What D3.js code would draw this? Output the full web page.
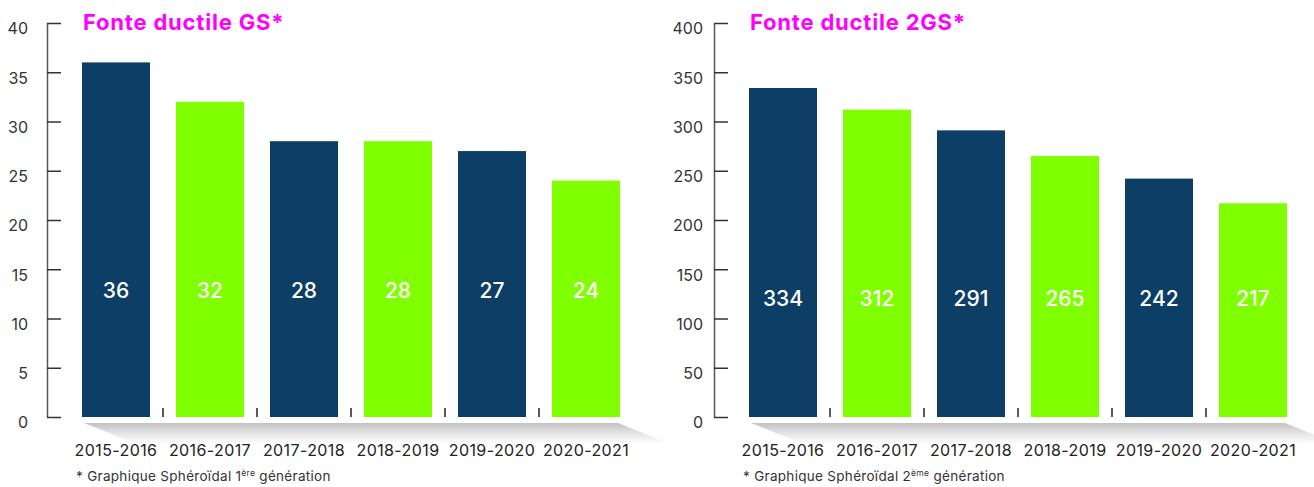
<!DOCTYPE html>
<html>
<head>
<meta charset="utf-8">
<script src="https://cdn.jsdelivr.net/npm/d3@7"></script>
<style>
  body { margin: 0; background: #fff; }
  text { font-family: Inter, "Open Sans", sans-serif; }
</style>
</head>
<body>
<div id="app"></div>
<script>
// data
let years = ["2015-2016", "2016-2017", "2017-2018", "2018-2019", "2019-2020", "2020-2021"];
let gsValues = [36, 32, 28, 28, 27, 24];
let gs2Values = [334, 312, 291, 265, 242, 217];
let gsTicks = [0, 5, 10, 15, 20, 25, 30, 35, 40];
let gs2Ticks = [0, 50, 100, 150, 200, 250, 300, 350, 400];
let barColors = ["#0d3f66", "#80ff00", "#0d3f66", "#80ff00", "#0d3f66", "#80ff00"];

let width = 1314;
let height = 487;

let svg = d3.select("#app")
  .append("svg")
    .attr("width", width)
    .attr("height", height);

// shadow gradient under the bars
let defs = svg.append("defs");
let grad = defs.append("linearGradient")
    .attr("id", "floor")
    .attr("x1", 0).attr("y1", 0)
    .attr("x2", 0).attr("y2", 1);
grad.append("stop").attr("offset", "0%").attr("stop-color", "#c2c2c2");
grad.append("stop").attr("offset", "45%").attr("stop-color", "#e2e2e2");
grad.append("stop").attr("offset", "100%").attr("stop-color", "#ffffff");

function drawChart(opts) {
  let g = svg.append("g");

  let y = d3.scaleLinear()
      .domain([0, opts.ticks[opts.ticks.length - 1]])
      .range([417, 23]);

  let x = d3.scaleBand()
      .domain(years)
      .range([opts.left + 22, opts.left + 22 + 6 * 94])
      .paddingInner(26 / 94)
      .paddingOuter(13 / 94);

  // floor shadow
  let x0 = x(years[0]) + 2;
  let x1 = x(years[years.length - 1]) + x.bandwidth() - 2;
  g.append("polygon")
      .attr("points", [[x0, 423], [x1, 423], [x1 + 52, 444], [x0 + 52, 444]].join(" "))
      .attr("fill", "url(#floor)");

  // y axis
  let axis = g.append("g")
      .attr("transform", "translate(" + opts.left + ",0)")
      .call(d3.axisLeft(y)
        .tickValues(opts.ticks)
        .tickSizeInner(-14)
        .tickSizeOuter(0)
        .tickPadding(opts.labelPad));
  axis.select(".domain").attr("stroke", "#555").attr("stroke-width", 1.5);
  axis.selectAll(".tick line").attr("stroke", "#333").attr("stroke-width", 1.5);
  axis.selectAll(".tick text")
      .attr("font-size", 16)
      .attr("fill", "#333")
      .attr("dy", "0.68em")
      .style("font-family", "Inter, sans-serif");

  // bars
  g.selectAll(".bar")
    .data(opts.values)
    .enter()
    .append("rect")
      .attr("class", "bar")
      .attr("x", (d, i) => x(years[i]))
      .attr("y", d => y(d))
      .attr("width", x.bandwidth())
      .attr("height", d => y(0) - y(d))
      .style("fill", (d, i) => barColors[i]);

  // value labels
  g.selectAll(".val")
    .data(opts.values)
    .enter()
    .append("text")
      .attr("x", (d, i) => x(years[i]) + x.bandwidth() / 2)
      .attr("y", opts.valueY)
      .attr("text-anchor", "middle")
      .attr("font-size", 21)
      .attr("font-weight", 500)
      .attr("fill", "#fff")
      .text(d => d);

  // little separators between bars
  g.selectAll(".sep")
    .data(years.slice(1))
    .enter()
    .append("line")
      .attr("x1", d => x(d) - x.step() * x.paddingInner() / 2)
      .attr("x2", d => x(d) - x.step() * x.paddingInner() / 2)
      .attr("y1", 408)
      .attr("y2", y(0))
      .attr("stroke", "#222")
      .attr("stroke-width", 1.5);

  // category labels
  g.selectAll(".cat")
    .data(years)
    .enter()
    .append("text")
      .attr("x", d => x(d) + x.bandwidth() / 2)
      .attr("y", 456)
      .attr("text-anchor", "middle")
      .attr("font-size", 16)
      .attr("letter-spacing", 0.4)
      .attr("fill", "#222")
      .text(d => d);

  // title
  g.append("text")
      .attr("x", x(years[0]) + 1)
      .attr("y", 30)
      .attr("font-size", 22)
      .attr("font-weight", 700)
      .attr("letter-spacing", 0.8)
      .attr("fill", "#ff00ff")
      .text(opts.title);

  // footnote
  let note = g.append("text")
      .attr("x", opts.left + 29)
      .attr("y", 481)
      .attr("font-size", 13.5)
      .attr("letter-spacing", 0.3)
      .attr("fill", "#333");
  note.append("tspan").text("* Graphique Sphéroïdal " + opts.gen);
  note.append("tspan").attr("font-size", 8.5).attr("dy", -5).text(opts.sup);
  note.append("tspan").attr("dy", 5).text(" génération");
}

drawChart({ left: 47, values: gsValues, ticks: gsTicks, labelPad: 19, valueY: 298,
  title: "Fonte ductile GS*", gen: "1", sup: "ère" });
drawChart({ left: 714, values: gs2Values, ticks: gs2Ticks, labelPad: 11, valueY: 306,
  title: "Fonte ductile 2GS*", gen: "2", sup: "ème" });
</script>
</body>
</html>
